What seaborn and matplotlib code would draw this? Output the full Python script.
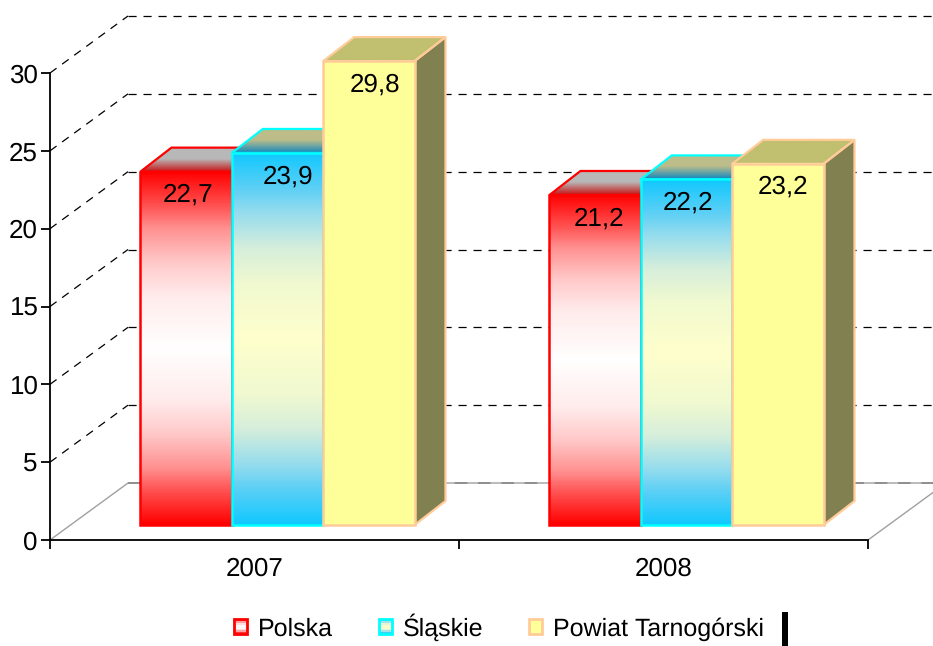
import numpy as np
import pandas as pd
import matplotlib
matplotlib.use("Agg")
import matplotlib.pyplot as plt
import seaborn as sns
from matplotlib.colors import LinearSegmentedColormap
from matplotlib.legend_handler import HandlerPatch
from matplotlib.lines import Line2D
from matplotlib.patches import Patch, Polygon, Rectangle
from matplotlib.transforms import Affine2D, IdentityTransform

years = ["2007", "2008"]
series_names = ["Polska", "Śląskie", "Powiat Tarnogórski"]
polska = [22.7, 21.2]
slaskie = [23.9, 22.2]
powiat = [29.8, 23.2]
y_ticks = [0, 5, 10, 15, 20, 25, 30]

edge_colors = ["#FF0000", "#00FFFF", "#FFCC99"]
front_stops = [
    [(0, "#FF0000"), (.1, "#FF5555"), (.16, "#FF9090"), (.255, "#FFC8C8"), (.35, "#FFEBEB"), (.5, "#FFFFFF"),
     (.65, "#FFEBEB"), (.745, "#FFC8C8"), (.84, "#FF9090"), (.9, "#FF5555"), (1, "#FF0000")],
    [(0, "#10C8FF"), (.1, "#60D0F5"), (.16, "#95DCEE"), (.255, "#D5EEDB"), (.35, "#F0F9D0"), (.5, "#FFFFCC"),
     (.65, "#F0F9D0"), (.745, "#D5EEDB"), (.84, "#95DCEE"), (.9, "#60D0F5"), (1, "#10C8FF")],
    [(0, "#FFFF99"), (1, "#FFFF99")],
]
top_stops = [
    [(0, "#B8B8B8"), (.45, "#B8B8B8"), (1, "#C81010")],
    [(0, "#BDBD8A"), (.45, "#BDBD8A"), (1, "#1088C0")],
    [(0, "#C0C070"), (1, "#C0C070")],
]
side_color = "#808050"
# fine horizontal placement of each value label, pixels
label_dx = [[2, 4], [10, 1], [6, 5]]

sns.set_theme(style="white")
plt.rcParams["font.family"] = ["Liberation Sans", "DejaVu Sans"]
plt.rcParams["text.color"] = "black"
plt.rcParams["text.hinting"] = "no_hinting"
plt.rcParams["text.hinting_factor"] = 1

W, H = 933, 646
fig = plt.figure(figsize=(W / 100, H / 100), dpi=100)
ax = fig.add_axes([50 / W, (H - 540) / H, (868 - 50) / W, (540 - 73) / H])

df = pd.DataFrame({
    "year": years * 3,
    "series": sum([[n] * 2 for n in series_names], []),
    "value": polska + slaskie + powiat,
})
sns.barplot(data=df, x="year", y="value", hue="series", hue_order=series_names,
            width=0.67, legend=False, ax=ax, zorder=5, errorbar=None)
ax.set_xlim(-0.5, 1.5)
ax.set_ylim(0, 30)
ax.set_xlabel("")
ax.set_ylabel("")

to_pts = 72 / fig.dpi
def shifted(dx, dy):
    return ax.transData + Affine2D().translate(dx, dy)
bar_tf = shifted(23, 15)
depth = (31, 24)
wall = (78, 57)
back_tf = shifted(*wall)
px = IdentityTransform()
dash = (6.5, 5.5)

for v in y_ticks:
    if v == 0:
        continue
    ax.plot([-0.5, 1.5], [v, v], transform=back_tf, color="black", lw=0.9,
            dashes=dash, clip_on=False, zorder=1)
    _, y0 = ax.transData.transform((0, v))
    ax.add_line(Line2D([50, 128], [y0, y0 + wall[1]], transform=px, color="black", lw=0.9,
                       dashes=dash, clip_on=False, zorder=1))
_, y0 = ax.transData.transform((0, 0))
ax.add_line(Line2D([50, 128, 946], [y0, y0 + wall[1], y0 + wall[1]], transform=px,
                   color="#A0A0A0", lw=1, clip_on=False, zorder=1))
ax.add_line(Line2D([128, 946], [y0 + wall[1], y0 + wall[1]], transform=px,
                   color="#909090", lw=1.4, dashes=dash, clip_on=False, zorder=1))
ax.add_line(Line2D([868, 946], [y0, y0 + wall[1]], transform=px,
                   color="#A0A0A0", lw=1, clip_on=False, zorder=1))

n_years = len(years)
cmaps = []
for i, name in enumerate(series_names):
    cmap = LinearSegmentedColormap.from_list(name, front_stops[i], N=512)
    cmaps.append(cmap)
    top_cmap = LinearSegmentedColormap.from_list(name + "_top", top_stops[i], N=256)
    grad = np.linspace(0, 1, 256).reshape(-1, 1)
    for j in range(n_years):
        patch = ax.patches[i * n_years + j]
        x0, w, h = patch.get_x(), patch.get_width(), patch.get_height()
        zb = 3 * i + 6
        px0, py0 = bar_tf.transform((x0, 0))
        px1, py1 = bar_tf.transform((x0 + w, h))
        dx, dy = depth
        patch.set_visible(False)
        # top face
        top_xy = [(px0, py1), (px1, py1), (px1 + dx, py1 + dy), (px0 + dx, py1 + dy)]
        top = Polygon(top_xy, closed=True, transform=px, fill=False,
                      edgecolor=edge_colors[i], lw=1.6, zorder=zb + 0.5, clip_on=False)
        ax.add_patch(top)
        top_img = ax.imshow(grad, cmap=top_cmap, aspect="auto", origin="upper",
                            extent=(px0, px1 + dx, py1, py1 + dy), transform=px, zorder=zb)
        top_img.set_clip_box(fig.bbox)
        top_img.set_clip_path(top)
        # side face
        ax.add_patch(Polygon([(px1, py0), (px1 + dx, py0 + dy), (px1 + dx, py1 + dy), (px1, py1)],
                             closed=True, transform=px, facecolor=side_color,
                             edgecolor=edge_colors[i], lw=1.6, zorder=zb, clip_on=False))
        # front face
        ax.imshow(grad, cmap=cmap, aspect="auto", origin="upper",
                  extent=(px0, px1, py0, py1), transform=px, zorder=zb + 1, clip_on=False)
        ax.add_patch(Polygon([(px0, py0), (px1, py0), (px1, py1), (px0, py1)], closed=True,
                             transform=px, fill=False, edgecolor=edge_colors[i],
                             lw=1.8, zorder=zb + 2, clip_on=False))
        ax.annotate(f"{h:.1f}".replace(".", ","), xy=(x0 + w / 2, h), xycoords=bar_tf,
                    xytext=(label_dx[i][j] * to_pts, -23.5 * to_pts), textcoords="offset points",
                    ha="center", va="center", fontsize=18.5, color="black", zorder=zb + 2.5)
ax.set_xlim(-0.5, 1.5)
ax.set_ylim(0, 30)

# axes
for s in ("top", "right"):
    ax.spines[s].set_visible(False)
for s in ("left", "bottom"):
    ax.spines[s].set_visible(True)
    ax.spines[s].set_color("black")
    ax.spines[s].set_linewidth(1.3)
    ax.spines[s].set_zorder(30)
ax.patch.set_visible(False)
ax.set_yticks(y_ticks)
ax.set_xticks([-0.5, 0.5, 1.5])
ax.set_xticklabels([])
ax.set_xticks([0, 1], labels=years, minor=True)
ax.tick_params(axis="y", which="major", left=True, length=6.5, width=1.3, color="black",
               labelsize=18.5, pad=2.5, labelcolor="black")
ax.tick_params(axis="x", which="major", bottom=True, length=6.5, width=1.3, color="black")
ax.tick_params(axis="x", which="minor", bottom=False, length=0, labelsize=18.5, pad=12,
               labelcolor="black")
ax.grid(False)

# legend with gradient swatches
class GradientHandler(HandlerPatch):
    def __init__(self, cmap, edge):
        super().__init__()
        self.cmap, self.edge = cmap, edge
    def create_artists(self, legend, orig, xd, yd, width, height, fontsize, trans):
        n = 8
        arts = [Rectangle((-xd, -yd + height * k / n), width, height / n + 0.3,
                          facecolor=self.cmap((k + .5) / n),
                          edgecolor="none", transform=trans) for k in range(n)]
        arts.append(Rectangle((-xd, -yd), width, height, fill=False,
                              edgecolor=self.edge, lw=2, transform=trans))
        return arts

handles = [Patch(label=n) for n in series_names]
fig.legend(handles, series_names, loc="center", bbox_to_anchor=(499 / W, (H - 627) / H),
           ncol=3, frameon=False, fontsize=18, handlelength=0.52, handleheight=0.52,
           handletextpad=0.42, columnspacing=1.84, borderpad=0,
           handler_map={h: GradientHandler(c, e) for h, c, e in zip(handles, cmaps, edge_colors)})

fig.add_artist(Rectangle((782 / W, 0), 6 / W, 34 / H, transform=fig.transFigure,
                         facecolor="black", edgecolor="none"))

fig.savefig("out.png", dpi=100)
